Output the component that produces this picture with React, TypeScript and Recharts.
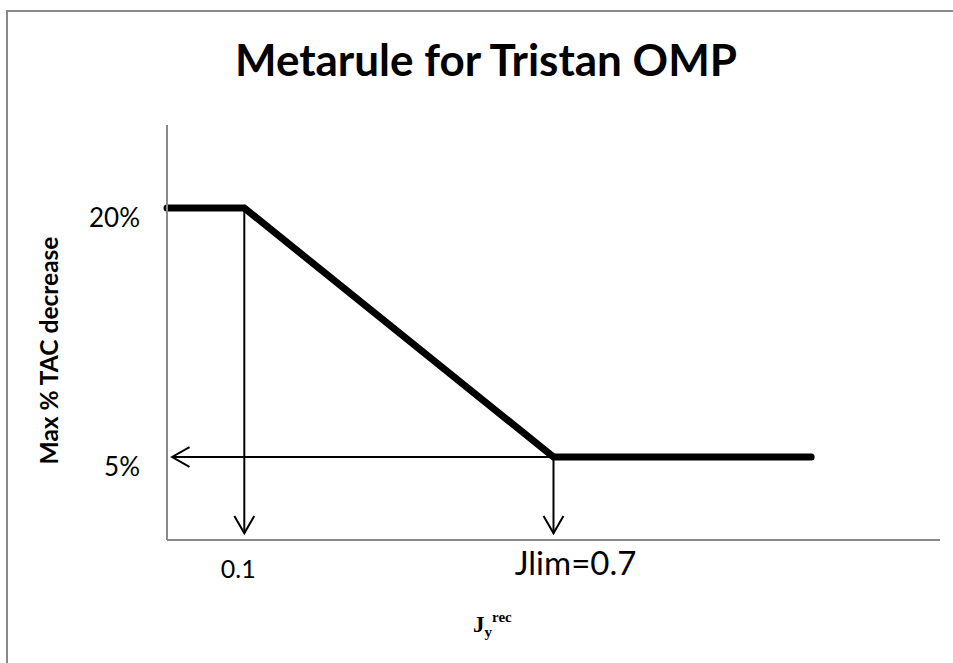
import { LineChart, Line, XAxis, YAxis, ReferenceLine } from 'recharts';

const RULE_X = [-0.05, 0.1, 0.7, 1.2];
const RULE_Y = [20, 20, 5, 5];
const X_TICKS = [0.1, 0.7];
const X_TICK_LABELS = ['0.1', 'Jlim=0.7'];
const Y_TICKS = [5, 20];
const Y_TICK_LABELS = ['5%', '20%'];
const X_DOMAIN = [-0.05, 1.45];
const Y_DOMAIN = [0, 25];
const ARROW_DROP_Y = 0.4;
const ARROW_LEFT_X = -0.04;

const data = RULE_X.map((x, i) => ({ x, y: RULE_Y[i] }));

const SANS = 'Lato, "Open Sans", sans-serif';
const AXIS_GREY = '#8a8a8a';

// ── Thin line with an open V arrowhead at its end ─────────────────────────────
function ArrowShape(props: any) {
  const { x1, y1, x2, y2 } = props;
  const ang = Math.atan2(y2 - y1, x2 - x1);
  const len = 20;
  const spread = 0.52;
  const ax = x2 + len * Math.cos(ang + Math.PI - spread);
  const ay = y2 + len * Math.sin(ang + Math.PI - spread);
  const bx = x2 + len * Math.cos(ang + Math.PI + spread);
  const by = y2 + len * Math.sin(ang + Math.PI + spread);
  return (
    <g>
      <line x1={x1} y1={y1} x2={x2} y2={y2} stroke="#000" strokeWidth={2} />
      <polyline
        points={`${ax},${ay} ${x2},${y2} ${bx},${by}`}
        fill="none"
        stroke="#000"
        strokeWidth={2}
      />
    </g>
  );
}

function XTick(props: any) {
  const { x, y, payload } = props;
  const i = X_TICKS.indexOf(payload.value);
  const big = i === 1;
  return (
    <text
      x={x + (big ? 22 : -6)}
      y={y + (big ? 27 : 30)}
      textAnchor="middle"
      fontFamily={SANS}
      fontSize={big ? 33 : 25}
      fill="#000"
    >
      {X_TICK_LABELS[i]}
    </text>
  );
}

function YTick(props: any) {
  const { x, y, payload } = props;
  const i = Y_TICKS.indexOf(payload.value);
  return (
    <text x={x - 19} y={y + 19} textAnchor="end" fontFamily={SANS} fontSize={26} fill="#000">
      {Y_TICK_LABELS[i]}
    </text>
  );
}

function YTitle(props: any) {
  const { viewBox } = props;
  const cx = viewBox.x + 48;
  const cy = viewBox.y + viewBox.height / 2 + 18;
  return (
    <text
      x={cx}
      y={cy}
      transform={`rotate(-90, ${cx}, ${cy})`}
      textAnchor="middle"
      dominantBaseline="central"
      fontFamily={SANS}
      fontWeight={700}
      fontSize={24.5}
      fill="#000"
    >
      Max % TAC decrease
    </text>
  );
}

function XTitle(props: any) {
  const { viewBox } = props;
  const x = viewBox.x + 306;
  const y = viewBox.y + 92;
  return (
    <text x={x} y={y} fontFamily='"Liberation Serif", "DejaVu Serif", serif' fontWeight={700} fill="#000">
      <tspan fontSize={23}>J</tspan>
      <tspan fontSize={15} dy={5}>y</tspan>
      <tspan fontSize={15} dy={-15}>rec</tspan>
    </text>
  );
}

export default function App() {
  return (
    <div style={{ position: 'absolute', left: 0, top: 0, width: 953, height: 663, background: '#fff', overflow: 'hidden' }}>
      {/* frame, cropped on the right and bottom */}
      <div
        style={{
          position: 'absolute',
          left: 6,
          top: 10,
          width: 1000,
          height: 700,
          borderTop: `2px solid ${AXIS_GREY}`,
          borderLeft: `2px solid ${AXIS_GREY}`,
        }}
      />
      <div
        style={{
          position: 'absolute',
          left: 0,
          top: 34,
          width: 972,
          textAlign: 'center',
          fontFamily: SANS,
          fontWeight: 700,
          fontSize: 44,
          lineHeight: '50px',
          color: '#000',
        }}
      >
        Metarule for Tristan OMP
      </div>
      <div style={{ position: 'absolute', left: 0, top: 0 }}>
        <LineChart width={953} height={663} data={data} margin={{ top: 125, right: 13, bottom: 0, left: 0 }}>
          <XAxis
            type="number"
            dataKey="x"
            domain={X_DOMAIN}
            ticks={X_TICKS}
            tick={<XTick />}
            tickLine={false}
            axisLine={{ stroke: AXIS_GREY, strokeWidth: 2 }}
            height={123}
            interval={0}
            label={<XTitle />}
          />
          <YAxis
            type="number"
            dataKey="y"
            domain={Y_DOMAIN}
            ticks={Y_TICKS}
            tick={<YTick />}
            tickLine={false}
            axisLine={{ stroke: AXIS_GREY, strokeWidth: 2 }}
            width={167}
            interval={0}
            label={<YTitle />}
          />
          <ReferenceLine
            segment={[{ x: RULE_X[1], y: RULE_Y[1] }, { x: RULE_X[1], y: ARROW_DROP_Y }]}
            shape={ArrowShape}
          />
          <ReferenceLine
            segment={[{ x: RULE_X[2], y: RULE_Y[2] }, { x: RULE_X[2], y: ARROW_DROP_Y }]}
            shape={ArrowShape}
          />
          <ReferenceLine
            segment={[{ x: RULE_X[2], y: RULE_Y[2] }, { x: ARROW_LEFT_X, y: RULE_Y[2] }]}
            shape={ArrowShape}
          />
          <Line
            type="linear"
            dataKey="y"
            stroke="#000"
            strokeWidth={7}
            strokeLinecap="round"
            strokeLinejoin="miter"
            dot={false}
            activeDot={false}
            isAnimationActive={false}
          />
        </LineChart>
      </div>
    </div>
  );
}
